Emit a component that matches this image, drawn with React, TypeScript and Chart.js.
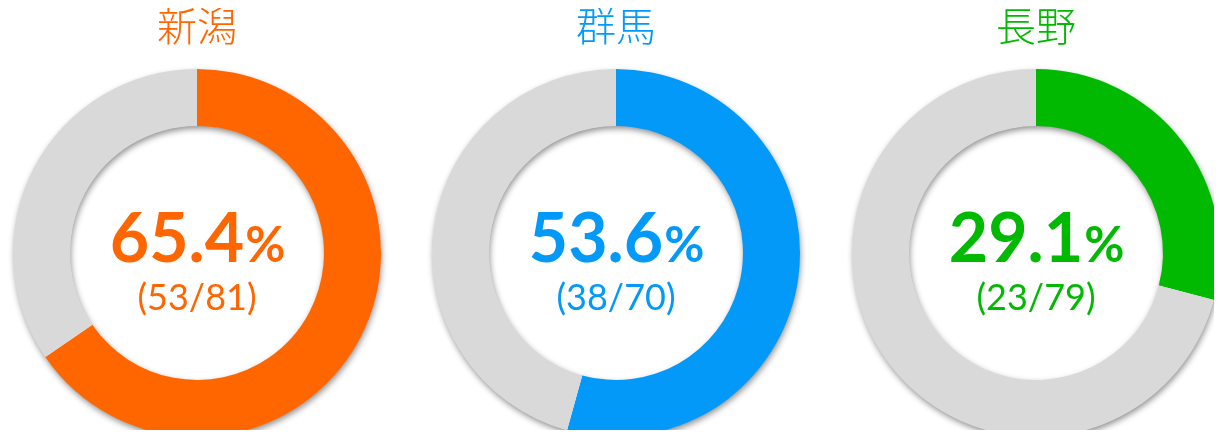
import React, { useEffect, useRef } from "react";
import { Chart, registerables } from "chart.js";

Chart.register(...registerables);

const regions = ["新潟", "群馬", "長野"];
const hits = [53, 38, 23];
const totals = [81, 70, 79];
const percentLabels = ["65.4", "53.6", "29.1"];
const colors = ["#FF6600", "#0399F8", "#02B902"];
const restColor = "#D9D9D9";
const centersX = [197, 616, 1036];

const W = 420;
const H = 438;

function Donut({ idx }: { idx: number }) {
  const ref = useRef<HTMLCanvasElement | null>(null);
  useEffect(() => {
    if (!ref.current) return;
    const color = colors[idx];
    const shadowPlugin = {
      id: "ringShadow",
      beforeDatasetsDraw(chart: any) {
        const arc: any = chart.getDatasetMeta(0).data[0];
        if (!arc) return;
        const { x, y, innerRadius, outerRadius } = arc;
        const ctx = chart.ctx;
        ctx.save();
        ctx.beginPath();
        ctx.arc(x, y, outerRadius - 0.5, 0, Math.PI * 2);
        ctx.arc(x, y, innerRadius + 0.5, Math.PI * 2, 0, true);
        ctx.closePath();
        ctx.shadowColor = "rgba(0,0,0,0.45)";
        ctx.shadowBlur = 6;
        ctx.shadowOffsetX = 1;
        ctx.shadowOffsetY = 3;
        ctx.fillStyle = "#ffffff";
        ctx.fill();
        ctx.restore();
      },
    };
    const textPlugin = {
      id: "centerText",
      afterDraw(chart: any) {
        const arc: any = chart.getDatasetMeta(0).data[0];
        if (!arc) return;
        const { x, y } = arc;
        const ctx = chart.ctx;
        ctx.save();
        ctx.fillStyle = color;
        // title
        ctx.textAlign = "center";
        ctx.textBaseline = "middle";
        ctx.font = '300 40px "Noto Sans CJK JP"';
        ctx.fillText(regions[idx], x, 26);
        // percent
        ctx.textBaseline = "alphabetic";
        const bigFont = "bold 68px Lato";
        const smallFont = "bold 49px Lato";
        ctx.font = bigFont;
        const w1 = ctx.measureText(percentLabels[idx]).width;
        ctx.font = smallFont;
        const w2 = ctx.measureText("%").width;
        const start = x - (w1 + w2) / 2;
        ctx.textAlign = "left";
        ctx.font = bigFont;
        ctx.fillText(percentLabels[idx], start, y + 9);
        ctx.font = smallFont;
        ctx.fillText("%", start + w1 + 1, y + 9);
        // fraction
        ctx.textAlign = "center";
        ctx.font = "36px Lato";
        ctx.fillText(`(${hits[idx]}/${totals[idx]})`, x, y + 57);
        ctx.restore();
      },
    };
    const chart = new Chart(ref.current, {
      type: "doughnut",
      data: {
        labels: ["該当", "その他"],
        datasets: [
          {
            data: [hits[idx], totals[idx] - hits[idx]],
            backgroundColor: [color, restColor],
            borderWidth: 0,
            hoverOffset: 0,
          },
        ],
      },
      options: {
        responsive: false,
        animation: false,
        cutout: "69%",
        layout: { padding: { top: 69, bottom: 1, left: 26, right: 26 } },
        plugins: {
          legend: { display: false },
          tooltip: { enabled: false },
          title: { display: false },
        },
      },
      plugins: [shadowPlugin, textPlugin],
    });
    return () => chart.destroy();
  }, [idx]);
  return (
    <canvas
      ref={ref}
      width={W}
      height={H}
      style={{
        position: "absolute",
        left: centersX[idx] - W / 2,
        top: 0,
        width: W,
        height: H,
      }}
    />
  );
}

export default function App() {
  return (
    <div
      style={{
        position: "relative",
        margin: -8,
        width: 1222,
        height: 438,
        overflow: "hidden",
        background: "#ffffff",
      }}
    >
      {regions.map((_, i) => (
        <Donut key={i} idx={i} />
      ))}
    </div>
  );
}
